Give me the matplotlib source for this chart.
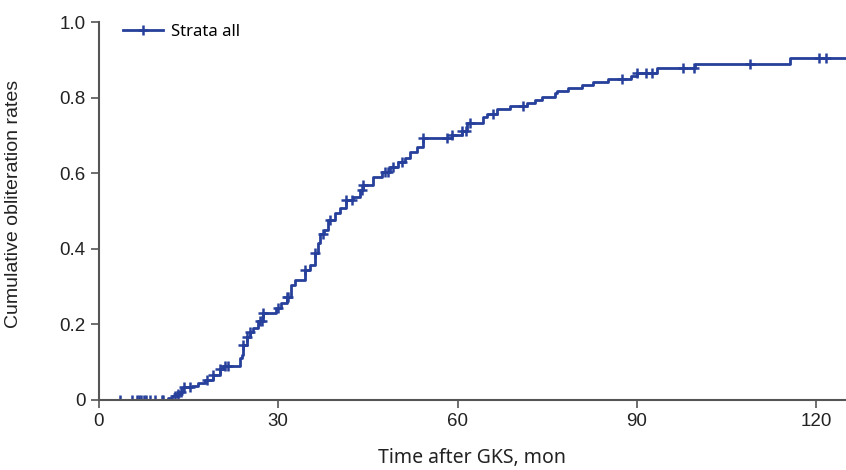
#!/usr/bin/env python3
import numpy as np
import matplotlib
matplotlib.use("Agg")
import matplotlib.pyplot as plt

# cumulative obliteration (1 - KM) step points
event_time = [0, 11.5, 12.2, 13.0, 13.5, 14.0, 15.5, 16.6, 17.7, 19.0, 20.2, 20.7,
              23.6, 23.9, 24.1, 24.7, 25.3, 25.8, 26.6, 27.5, 29.7, 30.5, 31.4,
              32.2, 32.8, 34.4, 35.3, 36.1, 36.6, 37.0, 37.6, 38.3, 39.5, 40.3,
              41.4, 42.5, 43.6, 44.2, 45.8, 47.3, 48.7, 50.0, 51.2, 52.0, 53.2,
              54.2, 59.0, 60.7, 61.5, 64.2, 64.9, 66.6, 68.7, 71.6, 72.9, 74.2,
              76.3, 76.6, 78.4, 80.8, 82.6, 85.1, 89.1, 90.1, 93.3, 99.7, 115.6, 125]
cum_rate = [0, 0.005, 0.010, 0.015, 0.022, 0.035, 0.038, 0.046, 0.053, 0.066, 0.082, 0.090,
            0.110, 0.120, 0.146, 0.167, 0.180, 0.190, 0.210, 0.230, 0.243, 0.256, 0.273,
            0.304, 0.317, 0.344, 0.357, 0.388, 0.415, 0.440, 0.450, 0.476, 0.494, 0.508,
            0.529, 0.538, 0.556, 0.569, 0.590, 0.604, 0.617, 0.630, 0.640, 0.657, 0.670,
            0.693, 0.701, 0.712, 0.733, 0.749, 0.757, 0.770, 0.778, 0.786, 0.794, 0.802,
            0.812, 0.817, 0.825, 0.833, 0.841, 0.849, 0.857, 0.865, 0.878, 0.889, 0.905, 0.905]

# censored observations (months)
censor_time = [3.5, 5.5, 6.3, 6.7, 7.1, 7.5, 7.9, 8.5, 9.4, 10.5, 10.7,
               12.7, 13.2, 13.7, 14.3, 15.2, 18.1, 19.1, 20.2, 21.1, 21.6,
               24.1, 24.7, 25.3, 26.9, 27.2, 27.5, 29.9, 31.4, 31.6, 34.4, 36.1,
               37.5, 38.6, 42.3, 44.0, 44.2, 47.8, 48.3, 49.2, 50.7,
               54.2, 58.2, 59.0, 60.7, 61.4, 62.0, 65.9, 70.9, 87.6, 90.1,
               91.6, 92.5, 97.8, 99.5, 109.0, 120.4, 121.6]

color = "#26409b"
tick_font = "Liberation Sans"
label_font = "Noto Sans"

fig = plt.figure(figsize=(8.46, 4.70), dpi=100)
ax = fig.add_axes([0.117, 0.149, 0.883, 0.804])

ax.step(event_time, cum_rate, where="post", color=color, lw=2.0, label="Strata all",
        marker="+", markevery=[len(event_time) // 2], ms=7, mew=1.8)
idx = np.searchsorted(event_time, censor_time, side="right") - 1
censor_y = np.array(cum_rate)[idx]
ax.plot(censor_time, censor_y, ls="none", marker="+", ms=7, mew=1.8, color=color)

ax.set_xlim(0, 125)
ax.set_ylim(0, 1.0)
ax.set_xticks([0, 30, 60, 90, 120])
ax.set_yticks([0, 0.2, 0.4, 0.6, 0.8, 1.0])
ax.set_yticklabels(["0", "0.2", "0.4", "0.6", "0.8", "1.0"])

for s in ["top", "right"]:
    ax.spines[s].set_visible(False)
for s in ["left", "bottom"]:
    ax.spines[s].set_color("#555555")
    ax.spines[s].set_linewidth(1.5)
ax.tick_params(direction="out", length=6, width=1.2, color="#555555",
               labelsize=13.5, labelcolor="#222222")
for lab in ax.get_xticklabels() + ax.get_yticklabels():
    lab.set_fontfamily(tick_font)

ax.set_xlabel("Time after GKS, mon", fontfamily=label_font, fontsize=14,
              color="#222222")
ax.xaxis.set_label_coords(0.5, -0.127)
ax.set_ylabel("Cumulative obliteration rates", fontfamily=tick_font, fontsize=14,
              color="#222222")
ax.yaxis.set_label_coords(-0.103, 0.518)

leg = ax.legend(loc="upper left", frameon=False, bbox_to_anchor=(0.012, 1.035),
                prop={"family": label_font, "size": 12}, handlelength=2.4,
                handletextpad=0.5)

fig.savefig("out.png", dpi=100)
